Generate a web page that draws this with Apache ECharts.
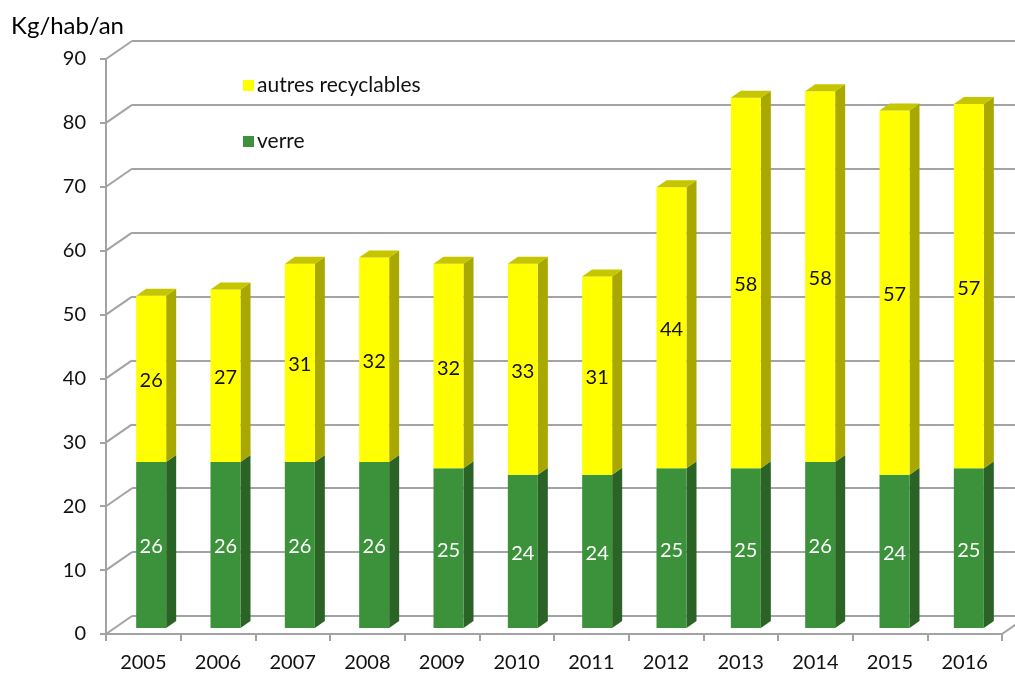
<!DOCTYPE html>
<html>
<head>
<meta charset="utf-8">
<script src="https://cdn.jsdelivr.net/npm/echarts@6/dist/echarts.min.js"></script>
<style>
html,body{margin:0;padding:0;background:#fff;}
#chart{width:1015px;height:673px;}
</style>
</head>
<body>
<div id="chart"></div>
<script>
const years = ['2005','2006','2007','2008','2009','2010','2011','2012','2013','2014','2015','2016'];
const verre = [26,26,26,26,25,24,24,25,25,26,24,25];
const autres = [26,27,31,32,32,33,31,44,58,58,57,57];
const yTicks = [0,10,20,30,40,50,60,70,80,90];
const unitLabel = 'Kg/hab/an';

const FONT = 'Lato';
const GRID_COLOR = '#a3a3a3';
const DX = 26, DY = 18;       // wall depth offset
const BW = 30, BDX = 10, BDY = 7; // bar width and depth

const greenData = years.map((y, i) => [i, 0, verre[i], verre[i]]);
const yellowData = years.map((y, i) => [i, verre[i], verre[i] + autres[i], autres[i]]);

function barRender(front, side, top, textColor, drawTop) {
  return function (params, api) {
    const i = api.value(0);
    const p0 = api.coord([i, api.value(1)]);
    const p1 = api.coord([i, api.value(2)]);
    const cx = p0[0];
    const x0 = cx - BW / 2, x1 = cx + BW / 2;
    const yb = p0[1], yt = p1[1];
    const children = [
      { type: 'polygon', shape: { points: [[x1, yb], [x1 + BDX, yb - BDY], [x1 + BDX, yt - BDY], [x1, yt]] }, style: { fill: side } },
      { type: 'rect', shape: { x: x0, y: yt, width: BW, height: yb - yt }, style: { fill: front } }
    ];
    if (drawTop) {
      children.push({ type: 'polygon', shape: { points: [[x0, yt], [x1, yt], [x1 + BDX, yt - BDY], [x0 + BDX, yt - BDY]] }, style: { fill: top } });
    }
    children.push({ type: 'text', style: { text: String(api.value(3)), x: cx, y: (yt + yb) / 2 + 2, align: 'center', verticalAlign: 'middle', fill: textColor, font: '20px ' + FONT } });
    return { type: 'group', children: children };
  };
}

const chart = echarts.init(document.getElementById('chart'));
chart.setOption({
  animation: false,
  backgroundColor: '#fff',
  title: { text: unitLabel, left: 6, top: 9, textStyle: { fontFamily: FONT, fontSize: 24, fontWeight: 'normal', color: '#000' } },
  legend: {
    data: ['autres recyclables', 'verre'],
    orient: 'vertical', left: 238, top: 70, itemGap: 35, itemWidth: 11, itemHeight: 11,
    icon: 'rect',
    textStyle: { fontFamily: FONT, fontSize: 21, color: '#111', padding: [0, 0, 0, -2] }
  },
  grid: [
    { left: 106, top: 59, width: 896, height: 575 },   // front
    { left: 132, top: 41, width: 896, height: 575 },   // back wall
    { left: 114, top: 53, width: 892, height: 575 }    // bar plane
  ],
  xAxis: [
    { gridIndex: 0, type: 'category', data: years, boundaryGap: true,
      axisLine: { lineStyle: { color: GRID_COLOR, width: 2 } },
      axisTick: { show: true, length: 7, lineStyle: { color: GRID_COLOR, width: 2 } },
      axisLabel: { fontFamily: FONT, fontSize: 20, color: '#111', margin: 19 } },
    { gridIndex: 1, type: 'category', data: years, show: false },
    { gridIndex: 2, type: 'category', data: years, show: false }
  ],
  yAxis: [
    { gridIndex: 0, type: 'value', min: 0, max: 90, interval: 10,
      axisLine: { show: true, lineStyle: { color: GRID_COLOR, width: 2 } },
      axisTick: { show: true, length: 6, lineStyle: { color: GRID_COLOR, width: 2 } },
      splitLine: { show: false },
      axisLabel: { fontFamily: FONT, fontSize: 20, color: '#111', margin: 20 } },
    { gridIndex: 1, type: 'value', min: 0, max: 90, interval: 10,
      axisLine: { show: false }, axisTick: { show: false }, axisLabel: { show: false },
      splitLine: { show: true, lineStyle: { color: GRID_COLOR, width: 2 } } },
    { gridIndex: 2, type: 'value', min: 0, max: 90, interval: 10, show: false, splitLine: { show: false } }
  ],
  series: [
    { type: 'custom', name: 'walls', xAxisIndex: 0, yAxisIndex: 0, silent: true, clip: false,
      data: yTicks.map(v => [0, v]),
      renderItem: function (params, api) {
        const v = api.value(1);
        const band = api.size([1, 0])[0];
        const p = api.coord([0, v]);
        const xl = p[0] - band / 2;
        const children = [{ type: 'line', shape: { x1: xl, y1: p[1], x2: xl + DX, y2: p[1] - DY }, style: { stroke: GRID_COLOR, lineWidth: 2 } }];
        if (v === 0) {
          const q = api.coord([years.length - 1, 0]);
          const xr = q[0] + band / 2;
          children.push({ type: 'line', shape: { x1: xr, y1: q[1], x2: xr + DX, y2: q[1] - DY }, style: { stroke: GRID_COLOR, lineWidth: 2 } });
        }
        return { type: 'group', children: children };
      }
    },
    { type: 'custom', name: 'verre', xAxisIndex: 2, yAxisIndex: 2, clip: false,
      itemStyle: { color: '#3b923a' },
      data: greenData,
      renderItem: barRender('#3b923a', '#2a6325', '#2f7a2e', '#ffffff', false) },
    { type: 'custom', name: 'autres recyclables', xAxisIndex: 2, yAxisIndex: 2, clip: false,
      itemStyle: { color: '#ffff00' },
      data: yellowData,
      renderItem: barRender('#ffff00', '#a8a800', '#c6c600', '#111111', true) }
  ]
});
</script>
</body>
</html>
